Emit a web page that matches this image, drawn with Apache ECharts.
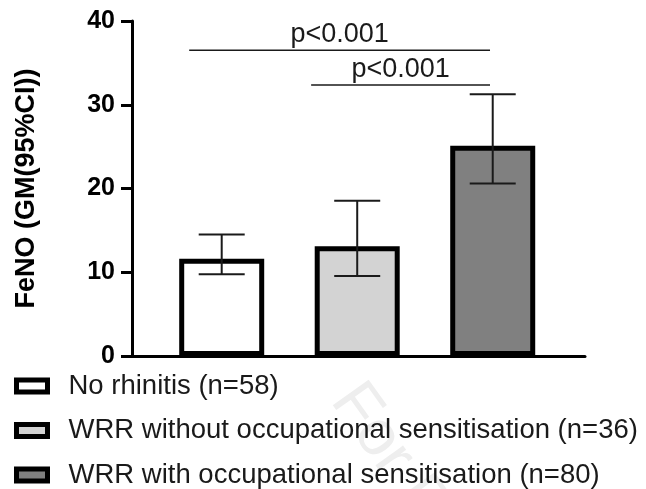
<!DOCTYPE html>
<html>
<head>
<meta charset="utf-8">
<script src="https://cdn.jsdelivr.net/npm/echarts@6/dist/echarts.min.js"></script>
<style>
  html, body { margin: 0; padding: 0; background: #fff; }
  #chart { width: 646px; height: 489px; }
</style>
</head>
<body>
<div id="chart"></div>
<script>
// groups, in plotting order
const groups = [
  'No rhinitis (n=58)',
  'WRR without occupational sensitisation (n=36)',
  'WRR with occupational sensitisation (n=80)'
];
const positions = [1, 2, 3];
const gmValues = [11.6, 13.1, 25.1];
const ciLower = [9.75, 9.55, 20.6];
const ciUpper = [14.5, 18.55, 31.25];
const barColors = ['#ffffff', '#d3d3d3', '#808080'];

// y axis ticks
const yMin = 0, yMax = 40, yStep = 10;

// significance brackets: start, end (x positions), height, label
const bracketFrom = [0.76, 1.66];
const bracketTo = [2.98, 2.98];
const bracketLevel = [36.5, 32.35];
const bracketLabels = ['p<0.001', 'p<0.001'];

const chart = echarts.init(document.getElementById('chart'));

const barSeries = groups.map(function (name, i) {
  return {
    name: name,
    type: 'bar',
    barWidth: 85,
    barGap: '-100%',
    itemStyle: { color: barColors[i], borderColor: '#000', borderWidth: 5 },
    data: [[positions[i], gmValues[i]]],
    z: 2
  };
});

const errorSeries = {
  type: 'custom',
  name: 'ci',
  z: 3,
  encode: { x: 0, y: [1, 2] },
  data: positions.map(function (p, i) { return [p, ciLower[i], ciUpper[i]]; }),
  renderItem: function (params, api) {
    const lo = api.coord([api.value(0), api.value(1)]);
    const hi = api.coord([api.value(0), api.value(2)]);
    const half = 23;
    const st = { stroke: '#1a1a1a', lineWidth: 2 };
    return {
      type: 'group',
      children: [
        { type: 'line', shape: { x1: lo[0], y1: lo[1], x2: hi[0], y2: hi[1] }, style: st },
        { type: 'line', shape: { x1: hi[0] - half, y1: hi[1], x2: hi[0] + half, y2: hi[1] }, style: st },
        { type: 'line', shape: { x1: lo[0] - half, y1: lo[1], x2: lo[0] + half, y2: lo[1] }, style: st }
      ]
    };
  }
};

const bracketSeries = {
  type: 'custom',
  name: 'p',
  z: 3,
  encode: { x: [0, 1], y: 2 },
  data: bracketFrom.map(function (f, i) { return [f, bracketTo[i], bracketLevel[i], i]; }),
  renderItem: function (params, api) {
    const a = api.coord([api.value(0), api.value(2)]);
    const b = api.coord([api.value(1), api.value(2)]);
    return {
      type: 'group',
      children: [
        { type: 'line', shape: { x1: a[0], y1: a[1], x2: b[0], y2: b[1] }, style: { stroke: '#1a1a1a', lineWidth: 1.5 } },
        {
          type: 'text',
          style: {
            text: bracketLabels[api.value(3)],
            x: (a[0] + b[0]) / 2, y: a[1] - 2,
            align: 'center', verticalAlign: 'bottom',
            fill: '#1a1a1a',
            font: '27px "Liberation Sans", Arial, sans-serif'
          }
        }
      ]
    };
  }
};

chart.setOption({
  animation: false,
  textStyle: { fontFamily: '"Liberation Sans", Arial, sans-serif' },
  graphic: [{
    type: 'text',
    left: 318, top: 372,
    rotation: -0.95,
    z: -10,
    silent: true,
    style: { text: 'For Peer Review', fill: '#eeeeee', font: '64px "Liberation Sans", Arial, sans-serif' }
  }],
  grid: { left: 132, top: 21, width: 453, height: 335 },
  legend: {
    data: groups,
    orient: 'vertical',
    left: 14, top: 372,
    padding: 0,
    itemWidth: 31, itemHeight: 12,
    itemGap: 16.5,
    icon: 'rect',
    itemStyle: { borderColor: '#000', borderWidth: 5 },
    textStyle: { fontSize: 27.5, color: '#1a1a1a', lineHeight: 27.5, padding: [0, 0, 0, 16] }
  },
  xAxis: {
    type: 'value',
    min: 0.338, max: 3.681,
    axisLine: { show: true, lineStyle: { color: '#000', width: 3 } },
    axisTick: { show: false },
    axisLabel: { show: false },
    splitLine: { show: false }
  },
  yAxis: {
    type: 'value',
    min: yMin, max: yMax, interval: yStep,
    name: 'FeNO (GM(95%CI))',
    nameLocation: 'middle',
    nameGap: 92,
    nameTextStyle: { fontSize: 27, fontWeight: 'bold', color: '#000' },
    axisLine: { show: true, lineStyle: { color: '#000', width: 3 } },
    axisTick: { show: true, length: 11, lineStyle: { color: '#000', width: 3 } },
    axisLabel: { fontSize: 25, fontWeight: 'bold', color: '#000', margin: 17 },
    splitLine: { show: false }
  },
  series: barSeries.concat([errorSeries, bracketSeries])
});
</script>
</body>
</html>
